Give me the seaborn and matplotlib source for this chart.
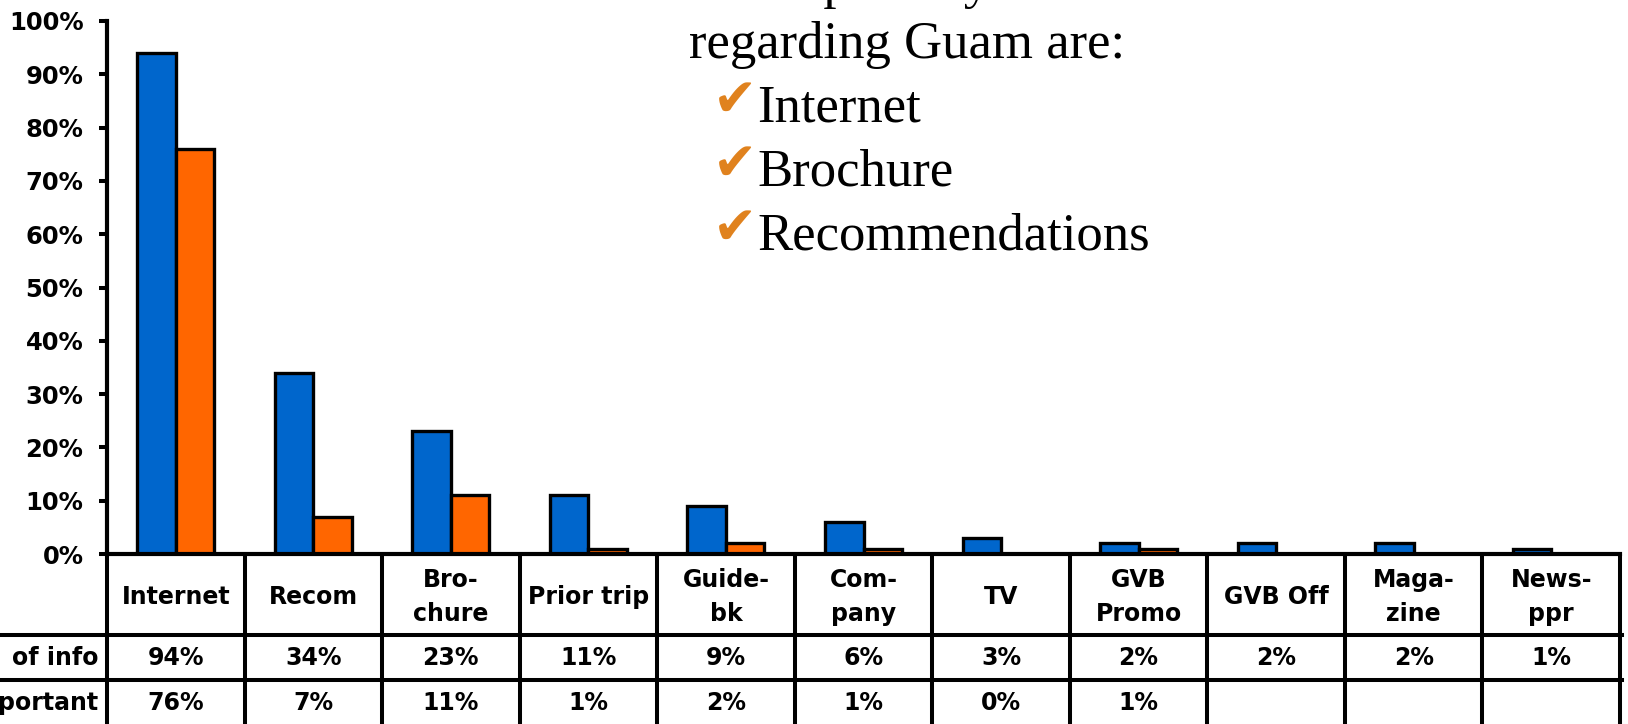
import matplotlib
matplotlib.use("Agg")
import matplotlib.pyplot as plt
import matplotlib.transforms as mtransforms
from matplotlib.lines import Line2D
import numpy as np
import pandas as pd
import seaborn as sns

# ---- data -------------------------------------------------------------
sources = ["Internet", "Recom", "Bro-\nchure", "Prior trip", "Guide-\nbk",
           "Com-\npany", "TV", "GVB\nPromo", "GVB Off", "Maga-\nzine", "News-\nppr"]
source_of_info = [94, 34, 23, 11, 9, 6, 3, 2, 2, 2, 1]
most_important = [76, 7, 11, 1, 2, 1, 0, 1, None, None, None]
row_labels = ["of info", "portant"]
y_ticks = [0, 10, 20, 30, 40, 50, 60, 70, 80, 90, 100]

heading = ["The primary sources of information", "regarding Guam are:"]
bullets = ["Internet", "Brochure", "Recommendations"]

BLUE = "#0066CC"
ORANGE = "#FF6600"
CHECK = "#E0821E"

# ---- figure -----------------------------------------------------------
W, H = 1628, 724
sns.set_theme(style="white")
plt.rcParams["font.family"] = ["DejaVu Sans"]
fig = plt.figure(figsize=(W / 100, H / 100), dpi=100)


def fx(px):
    return px / W


def fy(py):
    return 1 - py / H


ax_left, ax_right, ax_top, ax_bottom = 107, 1620, 21, 554
ax = fig.add_axes([fx(ax_left), fy(ax_bottom), fx(ax_right - ax_left),
                   (ax_bottom - ax_top) / H])

df = pd.DataFrame({
    "Source": sources * 2,
    "Share": source_of_info + most_important,
    "Series": ["Source of info"] * len(sources) + ["Most important"] * len(sources),
})
sns.barplot(data=df, x="Source", y="Share", hue="Series",
            palette=[BLUE, ORANGE], saturation=1, width=0.56,
            edgecolor="black", linewidth=2.4, legend=False, ax=ax)

ax.set_xlim(-0.5, len(sources) - 0.5)
ax.set_ylim(0, 100)
ax.set_yticks(y_ticks)
ax.set_yticklabels([f"{t}%" for t in y_ticks], fontsize=17.5, fontweight="bold")
ax.tick_params(axis="y", direction="out", length=6, width=2.9, pad=11,
               color="black", labelcolor="black", left=True)
ax.tick_params(axis="x", length=0, labelbottom=False)
ax.set_xlabel("")
ax.set_ylabel("")
for side in ("top", "right"):
    ax.spines[side].set_visible(False)
for side in ("left", "bottom"):
    ax.spines[side].set_color("black")
    ax.spines[side].set_linewidth(3.0)
    ax.spines[side].set_capstyle("projecting")

# ---- data table under the bars ---------------------------------------
tr = mtransforms.blended_transform_factory(ax.transData, fig.transFigure)
lw_tab = 2.9
row_edges = [554, 635, 680, 724]
n = len(sources)

# vertical cell borders
for k in range(n + 1):
    fig.add_artist(Line2D([k - 0.5, k - 0.5], [fy(554), fy(724)], transform=tr,
                          color="black", lw=lw_tab, clip_on=False,
                          solid_capstyle="butt"))
# horizontal row borders running to the left edge
for py in row_edges[1:3]:
    fig.add_artist(Line2D([0, fx(ax_right) + 0.001], [fy(py), fy(py)],
                          transform=fig.transFigure, color="black", lw=lw_tab,
                          clip_on=False, solid_capstyle="projecting"))

tab_font = dict(fontsize=17, fontweight="bold", color="black",
                ha="center", va="center", transform=tr)
for i, name in enumerate(sources):
    fig.text(i, fy(597), name, linespacing=1.55, **tab_font)
    fig.text(i, fy(658), f"{source_of_info[i]}%", **tab_font)
    if most_important[i] is not None:
        fig.text(i, fy(703), f"{most_important[i]}%", **tab_font)

for label, py in zip(row_labels, [658, 703]):
    fig.text(fx(98), fy(py), label, fontsize=17, fontweight="bold",
             color="black", ha="right", va="center")

# ---- heading and bullet list ----------------------------------------
serif = ["Liberation Serif", "DejaVu Serif"]
fig.text(fx(728), fy(-2), heading[0], family=serif, fontsize=38,
         ha="left", va="baseline", color="black")
fig.text(fx(689), fy(58), heading[1], family=serif, fontsize=38,
         ha="left", va="baseline", color="black")
for j, item in enumerate(bullets):
    base = 122 + 64 * j
    fig.text(fx(713), fy(base - 6), "\u2714", family=["DejaVu Sans"],
             fontsize=38, color=CHECK, ha="left", va="baseline")
    fig.text(fx(757), fy(base), item, family=serif, fontsize=38,
             ha="left", va="baseline", color="black")

fig.savefig("out.png", dpi=100, facecolor="white")
